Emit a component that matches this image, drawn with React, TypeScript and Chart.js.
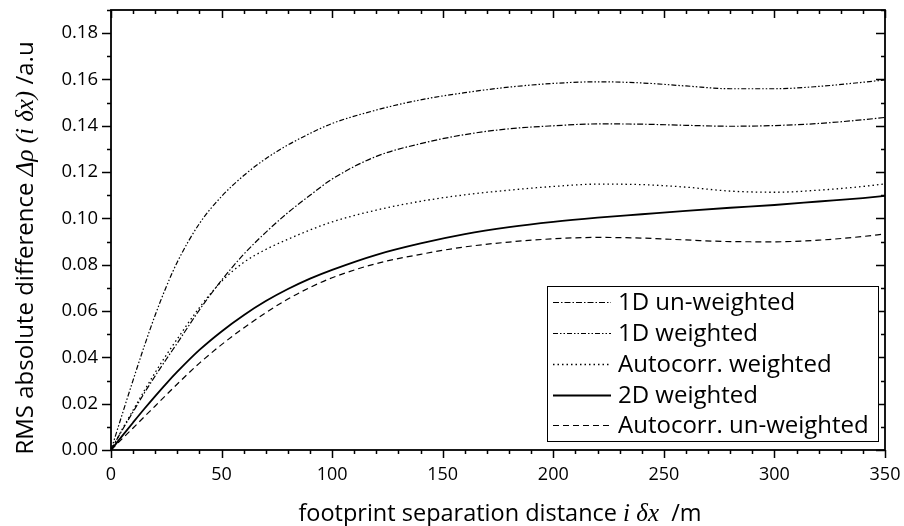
import React, { useEffect, useRef } from "react";
import { Chart, registerables } from "chart.js";

Chart.register(...registerables);

const xValues = [0, 5, 10, 15, 20, 25, 30, 40, 50, 60, 70, 80, 90, 100, 120, 140, 160, 180, 200, 220, 240, 260, 280, 300, 320, 340, 350];
const oneDUnweighted = [0, 0.0085, 0.0165, 0.0245, 0.032, 0.0392, 0.0462, 0.0605, 0.0733, 0.0845, 0.094, 0.1025, 0.11, 0.117, 0.1268, 0.1323, 0.1362, 0.1387, 0.14, 0.1408, 0.1407, 0.1402, 0.1398, 0.1401, 0.141, 0.1426, 0.1436];
const oneDWeighted = [0, 0.0152, 0.0302, 0.0447, 0.0583, 0.0705, 0.0812, 0.0978, 0.1095, 0.1185, 0.1258, 0.1317, 0.1367, 0.141, 0.1468, 0.1512, 0.1543, 0.1567, 0.1583, 0.159, 0.1585, 0.1572, 0.156, 0.156, 0.157, 0.1588, 0.1598];
const autocorrWeighted = [0, 0.0088, 0.0172, 0.0255, 0.0335, 0.041, 0.048, 0.0615, 0.0728, 0.081, 0.0866, 0.091, 0.095, 0.0985, 0.1036, 0.1074, 0.1102, 0.1122, 0.1138, 0.1148, 0.1146, 0.1135, 0.1118, 0.1113, 0.1122, 0.1138, 0.1149];
const twoDWeighted = [0, 0.006, 0.0119, 0.0177, 0.0233, 0.0287, 0.0338, 0.0432, 0.0512, 0.0582, 0.0643, 0.0695, 0.074, 0.0778, 0.0843, 0.0892, 0.0932, 0.0962, 0.0985, 0.1003, 0.1018, 0.1033, 0.1046, 0.1058, 0.1073, 0.1088, 0.1097];
const autocorrUnweighted = [0, 0.0048, 0.0095, 0.0143, 0.019, 0.0238, 0.0285, 0.0375, 0.0455, 0.0527, 0.0593, 0.0652, 0.0702, 0.0744, 0.0805, 0.0845, 0.0877, 0.0898, 0.0912, 0.0918, 0.0915, 0.0907, 0.09, 0.0899, 0.0906, 0.0922, 0.0933];

const seriesLabels = ["1D un-weighted", "1D weighted", "Autocorr. weighted", "2D weighted", "Autocorr. un-weighted"];
const xMin = 0;
const xMax = 350;
const yMin = 0;
const yMax = 0.19;
const xMajorStep = 50;
const xMinorStep = 10;
const yMajorStep = 0.02;
const yMinorStep = 0.01;

const SANS = '"Open Sans", "Noto Sans", sans-serif';
const SERIF = '"Liberation Serif", "DejaVu Serif", serif';

const styles = [
  { dash: [6, 2, 1.5, 2], width: 1.2 },
  { dash: [5, 2, 1.5, 2, 1.5, 2], width: 1.2 },
  { dash: [1.5, 3], width: 1.3 },
  { dash: [], width: 1.8 },
  { dash: [6, 4], width: 1.2 },
];

const seriesData = [oneDUnweighted, oneDWeighted, autocorrWeighted, twoDWeighted, autocorrUnweighted];

type Seg = { t: string; f: string };

function drawSegs(ctx: CanvasRenderingContext2D, segs: Seg[], cx: number, y: number) {
  let total = 0;
  for (const s of segs) {
    ctx.font = s.f;
    total += ctx.measureText(s.t).width;
  }
  let x = cx - total / 2;
  ctx.textAlign = "left";
  ctx.textBaseline = "alphabetic";
  for (const s of segs) {
    ctx.font = s.f;
    ctx.fillText(s.t, x, y);
    x += ctx.measureText(s.t).width;
  }
}

const decorPlugin = {
  id: "decor",
  afterDraw(chart: any) {
    const ctx: CanvasRenderingContext2D = chart.ctx;
    const { left, right, top, bottom } = chart.chartArea;
    const xs = chart.scales.x;
    const ys = chart.scales.y;
    ctx.save();
    ctx.strokeStyle = "#000";
    ctx.fillStyle = "#000";
    ctx.setLineDash([]);

    // ticks
    ctx.lineWidth = 1.5;
    ctx.beginPath();
    const nx = Math.round((xMax - xMin) / xMinorStep);
    for (let i = 0; i <= nx; i++) {
      const v = xMin + i * xMinorStep;
      const major = Math.abs(v / xMajorStep - Math.round(v / xMajorStep)) < 1e-6;
      const len = major ? 8 : 4;
      const px = Math.round(xs.getPixelForValue(v)) + 0.5;
      ctx.moveTo(px, bottom);
      ctx.lineTo(px, bottom + len);
      ctx.moveTo(px, top);
      ctx.lineTo(px, top + len);
    }
    const ny = Math.round((yMax - yMin) / yMinorStep);
    for (let i = 0; i <= ny; i++) {
      const v = yMin + i * yMinorStep;
      const major = i % Math.round(yMajorStep / yMinorStep) === 0;
      const len = major ? 9 : 4;
      const py = Math.round(ys.getPixelForValue(v)) + 0.5;
      ctx.moveTo(left, py);
      ctx.lineTo(left - len, py);
      ctx.moveTo(right, py);
      ctx.lineTo(right - len, py);
    }
    ctx.stroke();

    // frame
    ctx.lineWidth = 1.8;
    ctx.strokeRect(left, top, right - left, bottom - top);

    // legend
    const bx = 547, by = 286, bw = 331, bh = 155;
    ctx.fillStyle = "#fff";
    ctx.fillRect(bx, by, bw, bh);
    ctx.lineWidth = 1;
    ctx.strokeStyle = "#000";
    ctx.strokeRect(bx + 0.5, by + 0.5, bw, bh);
    ctx.fillStyle = "#000";
    const rowY = [302, 333, 364, 395, 425];
    ctx.font = `24px ${SANS}`;
    ctx.textAlign = "left";
    ctx.textBaseline = "middle";
    seriesLabels.forEach((lab, i) => {
      const st = styles[i];
      ctx.beginPath();
      ctx.lineWidth = st.width;
      ctx.setLineDash(st.dash);
      ctx.moveTo(553, rowY[i] + 0.5);
      ctx.lineTo(611, rowY[i] + 0.5);
      ctx.stroke();
      ctx.setLineDash([]);
      ctx.fillText(lab, 618, rowY[i] + 1);
    });

    // axis titles
    drawSegs(
      ctx,
      [
        { t: "footprint separation distance ", f: `23.5px ${SANS}` },
        { t: "i δx", f: `italic 25px ${SERIF}` },
        { t: "  /m", f: `23.5px ${SANS}` },
      ],
      500,
      521
    );
    ctx.save();
    ctx.translate(33, 248);
    ctx.rotate(-Math.PI / 2);
    drawSegs(
      ctx,
      [
        { t: "RMS absolute difference ", f: `24px ${SANS}` },
        { t: "Δρ (i δx)", f: `italic 25px ${SERIF}` },
        { t: " /a.u", f: `24px ${SANS}` },
      ],
      0,
      0
    );
    ctx.restore();
    ctx.restore();
  },
};

export default function App() {
  const ref = useRef<HTMLCanvasElement>(null);
  useEffect(() => {
    document.body.style.margin = "0";
    const canvas = ref.current!;
    const chart = new Chart(canvas, {
      type: "line",
      data: {
        datasets: seriesData.map((arr, i) => ({
          label: seriesLabels[i],
          data: xValues.map((x, j) => ({ x, y: arr[j] })),
          borderColor: "#000",
          borderWidth: styles[i].width,
          borderDash: styles[i].dash,
          pointRadius: 0,
          fill: false,
          cubicInterpolationMode: "monotone" as const,
        })),
      },
      options: {
        responsive: false,
        animation: false,
        layout: { padding: { top: 10, right: 19, left: 0, bottom: 0 } },
        plugins: { legend: { display: false }, tooltip: { enabled: false } },
        scales: {
          x: {
            type: "linear",
            min: xMin,
            max: xMax,
            grid: { display: false, drawTicks: false },
            border: { display: false },
            ticks: {
              stepSize: xMajorStep,
              padding: 14,
              color: "#000",
              font: { family: SANS, size: 18 },
              maxRotation: 0,
            },
            afterFit: (s: any) => {
              s.height = 76;
              s.paddingLeft = 0;
              s.paddingRight = 0;
            },
          },
          y: {
            type: "linear",
            min: yMin,
            max: yMax,
            grid: { display: false, drawTicks: false },
            border: { display: false },
            ticks: {
              stepSize: yMajorStep,
              includeBounds: false,
              padding: 13,
              color: "#000",
              font: { family: SANS, size: 18.5 },
              callback: (v: any) => Number(v).toFixed(2),
            },
            afterFit: (s: any) => {
              s.width = 111;
              s.paddingTop = 0;
              s.paddingBottom = 0;
            },
          },
        },
      },
      plugins: [decorPlugin],
    });
    return () => chart.destroy();
  }, []);
  return (
    <div style={{ width: 904, height: 526, background: "#fff" }}>
      <canvas ref={ref} width={904} height={526} />
    </div>
  );
}
